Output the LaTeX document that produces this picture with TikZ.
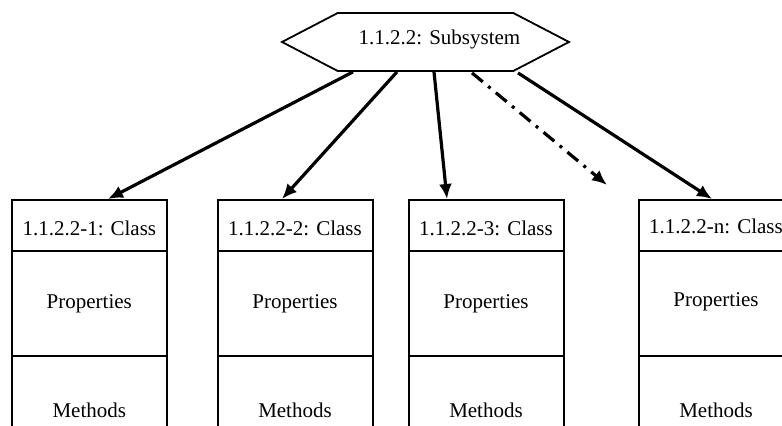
\documentclass[tikz,border=0pt]{standalone}
\usepackage{fontspec}
\setmainfont{Liberation Serif}
\usetikzlibrary{shapes.symbols,arrows.meta,calc}

\tikzset{
  hexbox/.style={signal, signal to=west and east, signal pointer angle=55, draw, line width=0.9pt, minimum width=143.5pt, minimum height=29pt, inner sep=0pt},
  headbox/.style={rectangle, draw, line width=1pt, minimum width=77.5pt, minimum height=25.5pt, inner sep=0pt, text height=10pt},
  propbox/.style={rectangle, draw, line width=1pt, minimum width=77.5pt, minimum height=52.5pt, inner sep=0pt},
  methbox/.style={rectangle, draw, line width=1pt, minimum width=77.5pt, minimum height=54pt, inner sep=0pt},
  link/.style={line width=1.6pt, -{Latex[length=7.5pt,width=6.5pt]}},
  maybelink/.style={link, dash pattern=on 7pt off 3.5pt on 1.5pt off 3.5pt}
}

\begin{document}
\begin{tikzpicture}[x=0.5pt, y=0.5pt, every node/.style={font=\fontsize{10.5}{12}\selectfont}]
\useasboundingbox (0,0) rectangle (782,-426);
\clip (0,0) rectangle (782,-426);
% subsystem
\node (sub) [hexbox] at (425.5, -42) {};
\node (subtxt) at ($(sub.center)+(14,3)$) {1.1.2.2: Subsystem};
% class 1
\node (h1) [headbox] at (89.3, -225.5) {1.1.2.2-1: Class};
\node (p1) [propbox] at (89.3, -303.5) {Properties};
\node (m1) [methbox] at (89.3, -410) {Methods};
% class 2
\node (h2) [headbox] at (295, -225.5) {1.1.2.2-2: Class};
\node (p2) [propbox] at (295, -303.5) {Properties};
\node (m2) [methbox] at (295, -410) {Methods};
% class 3
\node (h3) [headbox] at (486, -225.5) {1.1.2.2-3: Class};
\node (p3) [propbox] at (486, -303.5) {Properties};
\node (m3) [methbox] at (486, -410) {\raisebox{-2.5pt}{Methods}};
% class n
\node (hn) [headbox] at (716, -225.5) {\raisebox{1pt}{1.1.2.2-n: Class}};
\node (pn) [propbox] at (716, -303.5) {\raisebox{3.5pt}{Properties}};
\node (mn) [methbox] at (716, -410) {Methods};
\coordinate (more) at (607, -185);
% links
\draw [link] ($(sub.south)+(-72.5,0)$) to ($(h1.north)+(18.7,0)$);
\draw [link] ($(sub.south)+(-28.5,0)$) to ($(h2.north)+(-13,0)$);
\draw [link] ($(sub.south)+(8.5,0)$) to ($(h3.north)+(-39,0)$);
\draw [maybelink] ($(sub.south)+(46.5,-1)$) to (more);
\draw [link] ($(sub.south)+(92.5,-1)$) to ($(hn.north)+(-4,0)$);
\end{tikzpicture}
\end{document}
